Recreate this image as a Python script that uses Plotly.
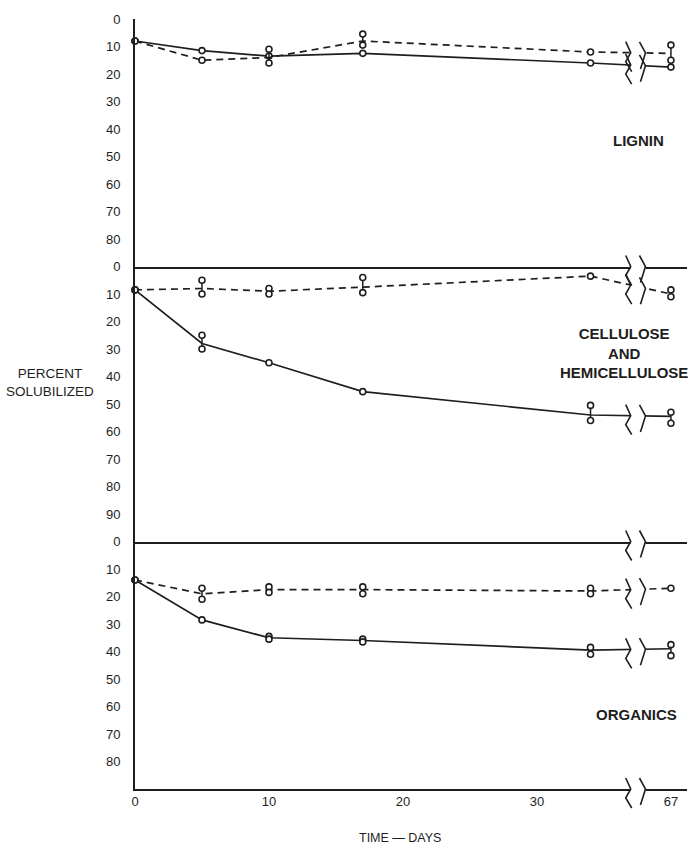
import plotly.graph_objects as go
from plotly.subplots import make_subplots

# Sampling days and tick labels
DAYS = [0, 5, 10, 17, 34, 67]
X_TICK_DAYS = [0, 10, 20, 30, 67]

# Percent solubilized: mean line values and replicate range (lo / hi)
LIGNIN_SOLID = [8, 11.5, 13.5, 12.5, 16, 17.5]
LIGNIN_SOLID_LO = [8, 11.5, 13.5, 12.5, 16, 17.5]
LIGNIN_SOLID_HI = [8, 11.5, 13.5, 12.5, 16, 17.5]
LIGNIN_DASHED = [8, 15, 14, 8, 12, 12.5]
LIGNIN_DASHED_LO = [8, 15, 11, 5.5, 12, 9.5]
LIGNIN_DASHED_HI = [8, 15, 16, 9.5, 12, 15]

CELL_SOLID = [8.5, 28, 35, 45.5, 54, 54.5]
CELL_SOLID_LO = [8.5, 25, 35, 45.5, 50.5, 53]
CELL_SOLID_HI = [8.5, 30, 35, 45.5, 56, 57]
CELL_DASHED = [8.5, 8, 9, 7.5, 3.5, 10]
CELL_DASHED_LO = [8.5, 5, 8, 4, 3.5, 8.5]
CELL_DASHED_HI = [8.5, 10, 10, 9.5, 3.5, 11]

ORG_SOLID = [14, 28.5, 35, 36, 39.5, 39]
ORG_SOLID_LO = [14, 28.5, 34.5, 35.5, 38.5, 37.5]
ORG_SOLID_HI = [14, 28.5, 35.5, 36.5, 41, 41.5]
ORG_DASHED = [14, 19, 17.5, 17.5, 18, 17]
ORG_DASHED_LO = [14, 17, 16.5, 16.5, 17, 17]
ORG_DASHED_HI = [14, 21, 18.5, 19, 19, 17]

Y_MAX = [90, 100, 90]          # reversed y range of each panel
Y_TICKS = [list(range(0, 90, 10)), list(range(0, 100, 10)), list(range(0, 90, 10))]

# Broken time axis: days after the break are shifted left
BREAK_LEFT = 37.0
BREAK_RIGHT = 38.1
SKIPPED_DAYS = 27
X_END = 41.2


def axis_pos(day):
    return day if day <= BREAK_LEFT else day - SKIPPED_DAYS


INK = "#1e1e1e"
FONT = "Liberation Sans, Arial, sans-serif"

W, H = 694, 848
PLOT_L, PLOT_R, PLOT_T, PLOT_B = 135, 687, 19, 789


def paper_x(px):
    return (px - PLOT_L) / (PLOT_R - PLOT_L)


def paper_y(py):
    return (PLOT_B - py) / (PLOT_B - PLOT_T)


fig = make_subplots(rows=3, cols=1, shared_xaxes=True, vertical_spacing=0,
                    row_heights=Y_MAX)

panels = [
    [(LIGNIN_SOLID, LIGNIN_SOLID_LO, LIGNIN_SOLID_HI, "solid"),
     (LIGNIN_DASHED, LIGNIN_DASHED_LO, LIGNIN_DASHED_HI, "7px,5px")],
    [(CELL_SOLID, CELL_SOLID_LO, CELL_SOLID_HI, "solid"),
     (CELL_DASHED, CELL_DASHED_LO, CELL_DASHED_HI, "7px,5px")],
    [(ORG_SOLID, ORG_SOLID_LO, ORG_SOLID_HI, "solid"),
     (ORG_DASHED, ORG_DASHED_LO, ORG_DASHED_HI, "7px,5px")],
]

xs = [axis_pos(d) for d in DAYS]

LEFT_MARK = "M-5,11 L0,0 L-5,-9 L1,-19"
RIGHT_MARK = "M-6,11 L0,0 L-5,-16"

shapes = []
for row, series in enumerate(panels, start=1):
    for mean, lo, hi, dash in series:
        # connecting line through the means
        fig.add_trace(go.Scatter(
            x=xs, y=mean, mode="lines",
            line=dict(color=INK, width=1.7, dash=dash),
            showlegend=False, hoverinfo="skip", cliponaxis=False),
            row=row, col=1)
        # replicate spread as bare vertical bars
        fig.add_trace(go.Scatter(
            x=xs, y=mean, mode="markers", marker=dict(size=0.1, color=INK),
            error_y=dict(type="data", symmetric=False,
                         array=[h - m for h, m in zip(hi, mean)],
                         arrayminus=[m - l for m, l in zip(mean, lo)],
                         color=INK, thickness=1.5, width=0),
            showlegend=False, hoverinfo="skip", cliponaxis=False),
            row=row, col=1)
        # replicate points as small open circles
        px, py = [], []
        for x, l, h in zip(xs, lo, hi):
            px.append(x)
            py.append(l)
            if h != l:
                px.append(x)
                py.append(h)
        fig.add_trace(go.Scatter(
            x=px, y=py, mode="markers",
            marker=dict(size=6, color="white", line=dict(color=INK, width=1.6)),
            showlegend=False, hoverinfo="skip", cliponaxis=False),
            row=row, col=1)

# white gap across the break
shapes.append(dict(type="rect", xref="x", yref="paper",
                   x0=BREAK_LEFT, x1=BREAK_RIGHT, y0=-0.01, y1=1.0,
                   fillcolor="white", line=dict(width=0), layer="above"))

for row, series in enumerate(panels, start=1):
    yname = "y" if row == 1 else f"y{row}"
    xname = "x" if row == 1 else f"x{row}"
    for mean, lo, hi, dash in series:
        x0, x1 = xs[-2], xs[-1]
        v0, v1 = mean[-2], mean[-1]
        for bx, path in ((BREAK_LEFT, LEFT_MARK), (BREAK_RIGHT, RIGHT_MARK)):
            yv = v0 + (v1 - v0) * (bx - x0) / (x1 - x0)
            shapes.append(dict(type="path", xref=xname, yref=yname,
                               xsizemode="pixel", ysizemode="pixel",
                               xanchor=bx, yanchor=yv, path=path,
                               line=dict(color=INK, width=1.6), layer="above"))
    for bx, path in ((BREAK_LEFT, LEFT_MARK), (BREAK_RIGHT, RIGHT_MARK)):
        shapes.append(dict(type="path", xref=xname, yref=yname + " domain",
                           xsizemode="pixel", ysizemode="pixel",
                           xanchor=bx, yanchor=0, path=path,
                           line=dict(color=INK, width=1.6), layer="above"))

for row in range(1, 4):
    fig.update_yaxes(range=[Y_MAX[row - 1], 0], autorange=False,
                     tickvals=Y_TICKS[row - 1], ticks="", showgrid=False,
                     zeroline=False, showline=True, linecolor=INK, linewidth=1.7,
                     ticklabelstandoff=10,
                     tickfont=dict(family=FONT, size=13, color=INK),
                     row=row, col=1)
    fig.update_xaxes(range=[0, X_END], autorange=False,
                     tickvals=[axis_pos(d) for d in X_TICK_DAYS],
                     ticktext=[str(d) for d in X_TICK_DAYS],
                     showticklabels=(row == 3), ticks="", showgrid=False,
                     zeroline=False, showline=True, linecolor=INK, linewidth=1.7,
                     tickfont=dict(family=FONT, size=13, color=INK),
                     row=row, col=1)

annotations = [
    dict(text="LIGNIN", x=paper_x(638), y=paper_y(140)),
    dict(text="CELLULOSE<br>AND<br>HEMICELLULOSE", x=paper_x(624), y=paper_y(353)),
    dict(text="ORGANICS", x=paper_x(636), y=paper_y(714)),
]
annotations = [dict(a, xref="paper", yref="paper", showarrow=False,
                    xanchor="center", yanchor="middle", align="center",
                    font=dict(family=FONT, size=15, color=INK, weight="bold"))
               for a in annotations]
annotations.append(dict(text="PERCENT<br>SOLUBILIZED", x=paper_x(50), y=paper_y(382),
                        xref="paper", yref="paper", showarrow=False,
                        xanchor="center", yanchor="middle", align="center",
                        font=dict(family=FONT, size=13.5, color=INK)))
annotations.append(dict(text="TIME — DAYS", x=paper_x(400), y=paper_y(838),
                        xref="paper", yref="paper", showarrow=False,
                        xanchor="center", yanchor="middle",
                        font=dict(family=FONT, size=12.5, color=INK)))

fig.update_layout(width=W, height=H,
                  margin=dict(l=PLOT_L, r=W - PLOT_R, t=PLOT_T, b=H - PLOT_B),
                  paper_bgcolor="white", plot_bgcolor="white",
                  shapes=shapes, annotations=annotations, showlegend=False)

fig.write_html("out.html")
